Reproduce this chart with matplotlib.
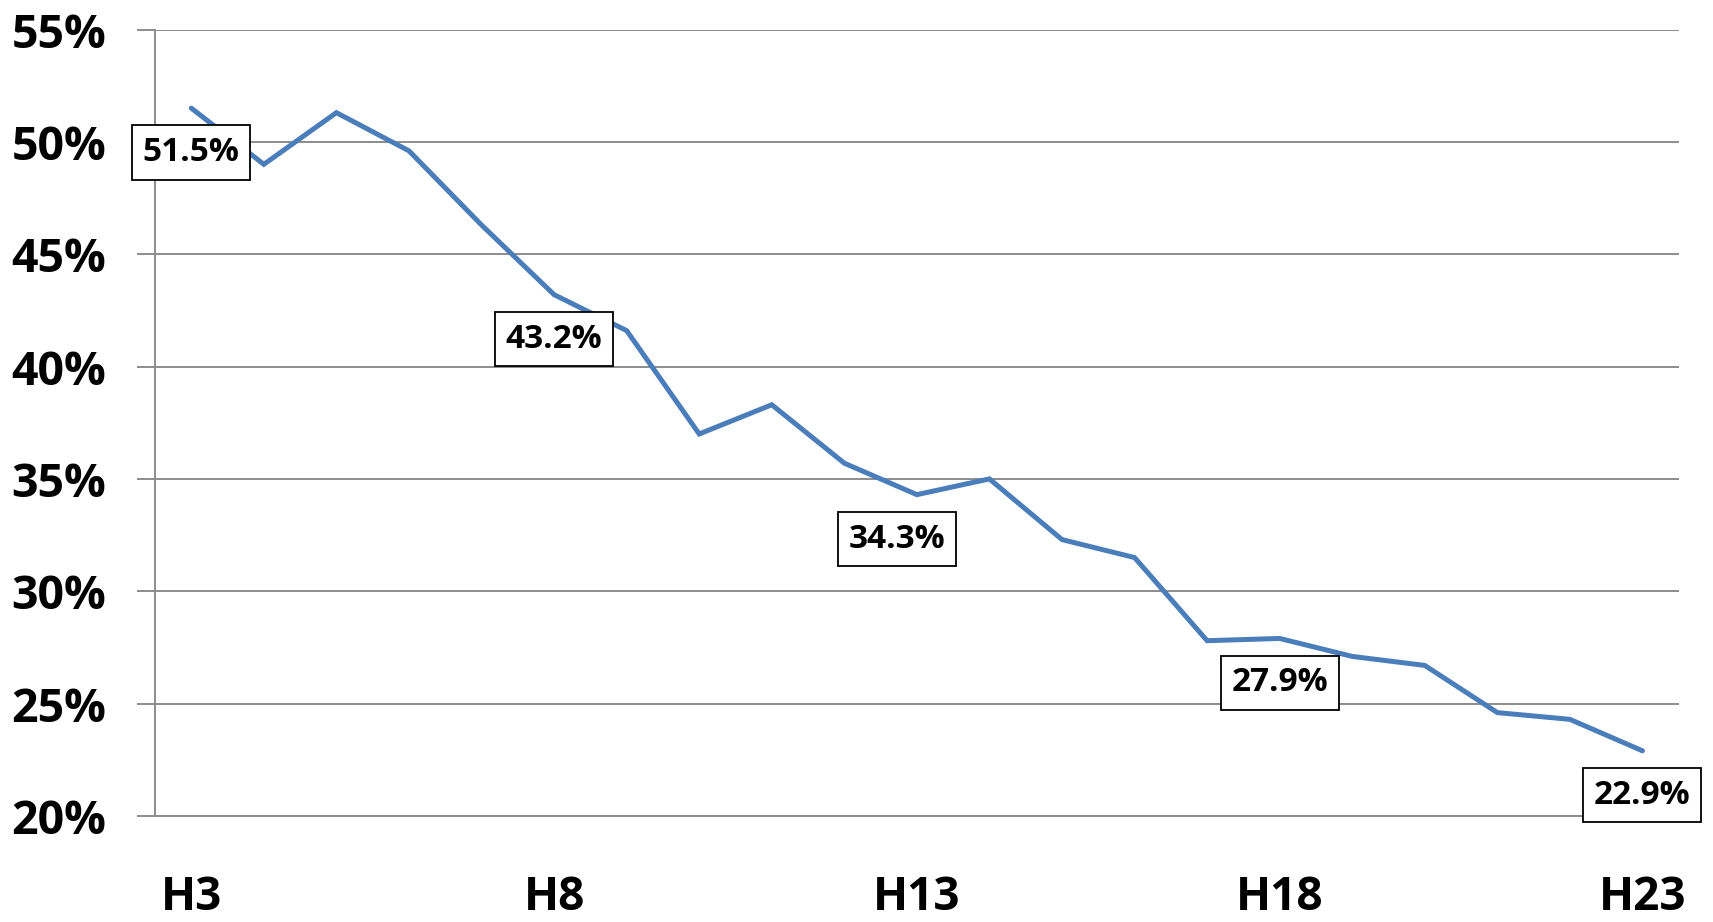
import matplotlib.pyplot as plt
from matplotlib.ticker import FuncFormatter

years = ["H" + str(i) for i in range(3, 24)]
rates = [51.5, 49.0, 51.3, 49.6, 46.3, 43.2, 41.6, 37.0, 38.3, 35.7, 34.3,
         35.0, 32.3, 31.5, 27.8, 27.9, 27.1, 26.7, 24.6, 24.3, 22.9]
labeled = ["H3", "H8", "H13", "H18", "H23"]
label_shift = {"H13": -14}

line_color = "#4A7EBB"
grid_color = "#8C8C8C"

plt.rcParams['font.family'] = ['Open Sans', 'DejaVu Sans']
plt.rcParams['font.weight'] = 'bold'


def main():
    fig = plt.figure(figsize=(17.13, 9.22), dpi=100)
    ax = fig.add_axes([0.0905, 0.115, 0.8895, 0.853])

    x = list(range(len(years)))
    ax.plot(x, rates, color=line_color, linewidth=3.6, solid_capstyle="round",
            solid_joinstyle="miter", zorder=3)

    for i, (name, val) in enumerate(zip(years, rates)):
        if name in labeled:
            ax.annotate(f"{val:.1f}%", (i, val),
                        xytext=(label_shift.get(name, 0), -32),
                        textcoords="offset points", ha="center", va="center",
                        fontsize=24, fontweight="bold", zorder=5,
                        bbox=dict(boxstyle="square,pad=0.32", fc="white",
                                  ec="black", lw=1.3))

    ax.set_xlim(-0.5, len(years) - 0.5)
    ax.set_ylim(20, 55)
    ax.set_yticks(range(20, 56, 5))
    ax.yaxis.set_major_formatter(FuncFormatter(lambda v, p: f"{v:.0f}%"))
    ax.set_xticks([years.index(n) for n in labeled])
    ax.set_xticklabels(labeled)

    ax.grid(axis="y", color=grid_color, linewidth=1.4, zorder=1)
    ax.set_axisbelow(True)
    for s in ["top", "right"]:
        ax.spines[s].set_visible(False)
    ax.spines["left"].set_color(grid_color)
    ax.spines["left"].set_linewidth(1.4)
    ax.spines["bottom"].set_color(grid_color)
    ax.spines["bottom"].set_linewidth(1.4)

    ax.tick_params(axis="y", direction="out", length=13, width=1.4,
                   color=grid_color, pad=22, labelsize=33.5)
    ax.tick_params(axis="x", length=0, pad=42, labelsize=33)
    for t in ax.get_xticklabels() + ax.get_yticklabels():
        t.set_fontweight("bold")

    fig.savefig("out.png", dpi=100, facecolor="white")


if __name__ == "__main__":
    main()
